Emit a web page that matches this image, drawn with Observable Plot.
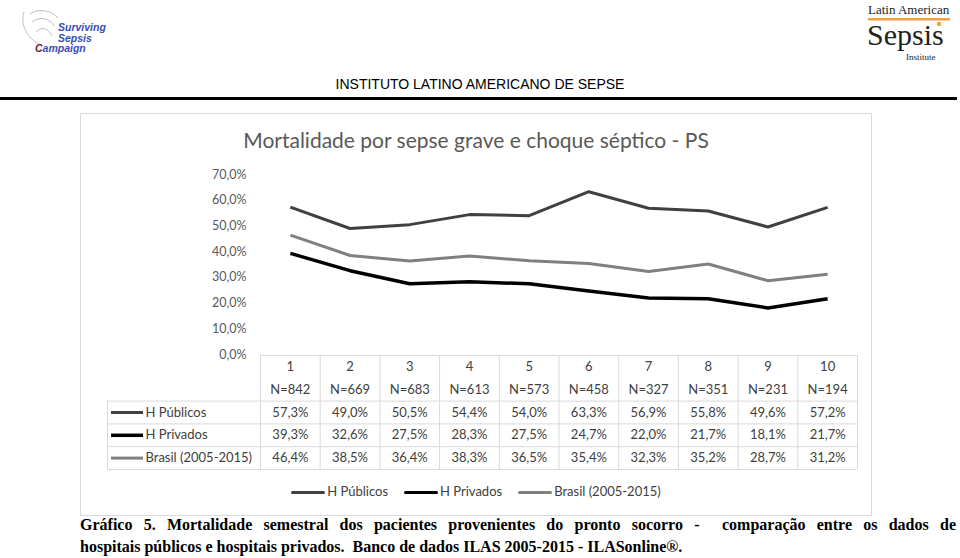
<!DOCTYPE html>
<html>
<head>
<meta charset="utf-8">
<script src="https://cdn.jsdelivr.net/npm/d3@7"></script>
<script src="https://cdn.jsdelivr.net/npm/@observablehq/plot@0.6"></script>
<style>
  html, body { margin: 0; padding: 0; background: #fff; }
  #page { position: relative; width: 960px; height: 558px; overflow: hidden; font-family: "Liberation Sans", Arial, sans-serif; }
  .abs { position: absolute; }
  #box { left: 80px; top: 113px; width: 792px; height: 403px; border: 1px solid #d9d9d9; box-sizing: border-box; }
  #ctitle { left: 80px; top: 127px; width: 792px; text-align: center; font-family: Lato, sans-serif; font-size: 21px; color: #595959; }
  #legend { left: 80px; top: 483px; width: 792px; text-align: center; font-family: Lato, sans-serif; font-size: 13px; color: #404040; }
  #legend .item { display: inline-block; margin: 0 8px; }
  #legend .sw { display: inline-block; width: 34px; vertical-align: middle; margin-right: 2px; border-radius: 2px; }
  .cap { left: 80px; width: 876px; font-family: "Liberation Serif", "Times New Roman", serif; font-weight: bold; font-size: 16px; line-height: 22px; color: #000; white-space: nowrap; }
  #cap1 { top: 514px; text-align: justify; text-align-last: justify; white-space: normal; }
  #cap2 { top: 536px; text-align: left; }
  #header { left: 0; top: 76px; width: 960px; text-align: center; font-size: 14px; color: #000; }
  #rule { left: 0; top: 97px; width: 957px; height: 3px; background: #000; }
</style>
</head>
<body>
<div id="page">
  <!-- left logo -->
  <svg class="abs" style="left:18px;top:4px" width="100" height="52">
    <g fill="none" stroke="#b0b0b0" stroke-width="0.8">
      <path d="M6 8 C 2 20, 8 34, 24 42"/>
      <path d="M12 10 C 20 4, 34 6, 40 14"/>
      <path d="M14 18 C 22 12, 32 14, 36 22"/>
      <path d="M18 28 C 24 22, 30 24, 34 32"/>
    </g>
    <text x="40" y="27" font-family="Liberation Sans, Arial" font-style="italic" font-weight="bold" font-size="10.5" fill="#3a4db5">Surviving</text>
    <text x="40" y="37.5" font-family="Liberation Sans, Arial" font-style="italic" font-weight="bold" font-size="10.5" fill="#3a4db5">Sepsis</text>
    <text x="17" y="48" font-family="Liberation Sans, Arial" font-style="italic" font-weight="bold" font-size="10.5" fill="#3a4db5"><tspan fill="#6b2030">C</tspan>ampaign</text>
  </svg>
  <!-- right logo -->
  <svg class="abs" style="left:864px;top:0px" width="96" height="64">
    <text x="4" y="14" font-family="Liberation Serif, serif" font-size="13" fill="#222">Latin American</text>
    <rect x="4" y="18" width="82" height="2.5" fill="#f0a040"/>
    <circle cx="75" cy="24" r="2.2" fill="#f0a040"/>
    <text x="3" y="45" font-family="Liberation Serif, serif" font-size="30" fill="#222">Sepsis</text>
    <text x="42" y="60" font-family="Liberation Serif, serif" font-size="9" fill="#222">Institute</text>
  </svg>
  <div id="header" class="abs">INSTITUTO LATINO AMERICANO DE SEPSE</div>
  <div id="rule" class="abs"></div>
  <div id="box" class="abs"></div>
  <div id="ctitle" class="abs">Mortalidade por sepse grave e choque séptico - PS</div>
  <div id="lines" class="abs" style="left:80px;top:160px"></div>
  <div id="table" class="abs" style="left:80px;top:350px"></div>
  <div id="legend" class="abs"></div>
  <div id="cap1" class="abs cap">Gráfico 5. Mortalidade semestral dos pacientes provenientes do pronto socorro - &nbsp;comparação entre os dados de</div>
  <div id="cap2" class="abs cap">hospitais públicos e hospitais privados. &nbsp;Banco de dados ILAS 2005-2015 - ILASonline®.</div>
</div>
<script>
// ---- data ----
const periods = [1, 2, 3, 4, 5, 6, 7, 8, 9, 10];
const nValues = [842, 669, 683, 613, 573, 458, 327, 351, 231, 194];
const seriesNames = ["H Públicos", "H Privados", "Brasil (2005-2015)"];
const publicos = [57.3, 49.0, 50.5, 54.4, 54.0, 63.3, 56.9, 55.8, 49.6, 57.2];
const privados = [39.3, 32.6, 27.5, 28.3, 27.5, 24.7, 22.0, 21.7, 18.1, 21.7];
const brasil = [46.4, 38.5, 36.4, 38.3, 36.5, 35.4, 32.3, 35.2, 28.7, 31.2];
const yTicks = [0, 10, 20, 30, 40, 50, 60, 70];
const seriesColors = ["#404040", "#000000", "#808080"];
const seriesWidths = [3, 3.5, 3];

// ---- derived ----
const seriesValues = [publicos, privados, brasil];
const rows = seriesNames.flatMap((s, si) => periods.map((p, i) => ({series: s, si, period: p, value: seriesValues[si][i]})));
const fmt = v => v.toFixed(1).replace(".", ",") + "%";
const font = "Lato, sans-serif";

// ---- line chart ----
const lineChart = Plot.plot({
  width: 792, height: 196,
  marginLeft: 180, marginRight: 15, marginTop: 14, marginBottom: 2,
  style: {fontFamily: font, fontSize: "12.5px", color: "#595959", overflow: "visible"},
  x: {domain: [0.5, 10.5], axis: null},
  y: {domain: [0, 70], axis: null},
  marks: [
    Plot.axisY(yTicks, {tickSize: 0, tickPadding: 14, tickFormat: fmt, fill: "#595959", fontSize: 12.5, label: null}),
    ...seriesNames.map((s, si) => Plot.line(rows.filter(d => d.si === si), {
      x: "period", y: "value", stroke: seriesColors[si], strokeWidth: seriesWidths[si], strokeLinejoin: "round", strokeLinecap: "butt"
    }))
  ]
});
document.getElementById("lines").append(lineChart);

// ---- data table ----
const labelCols = 153 / 59.7; // width of the label column in column units
const xL = 0.5 - labelCols;
const swW = 32 / 59.7;
const sw0 = 4 / 59.7;
const rowLines = [2, 3, 4, 5];
const colLines = d3.range(0.5, 11, 1);
const table = Plot.plot({
  width: 792, height: 125,
  marginLeft: 27, marginRight: 15, marginTop: 5, marginBottom: 6,
  style: {fontFamily: font, fontSize: "13px", color: "#404040", overflow: "visible"},
  x: {domain: [xL, 10.5], axis: null},
  y: {domain: [0, 5], reverse: true, axis: null},
  marks: [
    Plot.ruleY([0], {x1: 0.5, x2: 10.5, stroke: "#d9d9d9", strokeWidth: 1}),
    Plot.ruleY(rowLines, {x1: xL, x2: 10.5, stroke: "#d9d9d9", strokeWidth: 1}),
    Plot.ruleX(colLines, {y1: 0, y2: 5, stroke: "#d9d9d9", strokeWidth: 1}),
    Plot.ruleX([xL], {y1: 2, y2: 5, stroke: "#d9d9d9", strokeWidth: 1}),
    Plot.text(periods, {x: d => d, y: 0.5, text: d => String(d), fill: "#404040"}),
    Plot.text(periods, {x: d => d, y: 1.5, text: (d, i) => "N=" + nValues[i], fill: "#404040"}),
    Plot.text(rows, {x: "period", y: d => d.si + 2.5, text: d => fmt(d.value), fill: "#404040"}),
    ...seriesNames.map((s, si) => Plot.ruleY([si + 2.5], {x1: xL + sw0, x2: xL + sw0 + swW, stroke: seriesColors[si], strokeWidth: seriesWidths[si]})),
    Plot.text(seriesNames, {x: xL + sw0 + swW, y: (d, i) => i + 2.5, text: d => d, textAnchor: "start", dx: 2, fill: "#404040"})
  ]
});
document.getElementById("table").append(table);

// ---- bottom legend ----
const legend = document.getElementById("legend");
seriesNames.forEach((s, si) => {
  const item = document.createElement("span");
  item.className = "item";
  const sw = document.createElement("span");
  sw.className = "sw";
  sw.style.borderTop = seriesWidths[si] + "px solid " + seriesColors[si];
  item.append(sw, document.createTextNode(s));
  legend.append(item);
});
</script>
</body>
</html>
